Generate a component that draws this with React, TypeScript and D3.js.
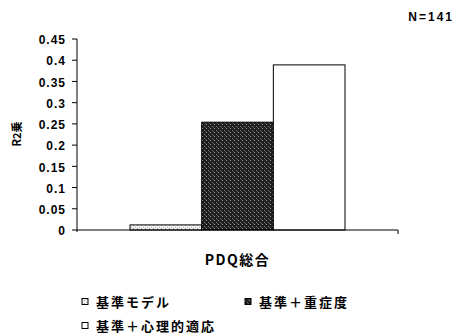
import React from "react";
import * as d3 from "d3";

const categories = ["PDQ総合"];
const seriesNames = ["基準モデル", "基準＋重症度", "基準＋心理的適応"];
const seriesValues = [0.012, 0.254, 0.389];
const yTicks = [0, 0.05, 0.1, 0.15, 0.2, 0.25, 0.3, 0.35, 0.4, 0.45];
const yTickLabels = ["0", "0.05", "0.1", "0.15", "0.2", "0.25", "0.3", "0.35", "0.4", "0.45"];

const W = 463;
const H = 335;
const left = 77;
const right = 398;
const top = 39;
const bottom = 230;

const fills = ["url(#pLight)", "url(#pDark)", "#ffffff"];

export default function App() {
  const y = d3.scaleLinear().domain([0, 0.45]).range([bottom, top]);
  const x0 = d3.scaleBand<string>().domain(categories).range([left, right]).paddingInner(0).paddingOuter(0);
  const x1 = d3
    .scaleBand<string>()
    .domain(seriesNames)
    .range([130 - left, 345 - left])
    .padding(0);
  const font = "'Liberation Sans', Arial, 'Noto Sans CJK JP', sans-serif";
  const jfont = "'Noto Sans CJK JP', 'Liberation Sans', sans-serif";

  return (
    <svg
      width={W}
      height={H}
      style={{ position: "absolute", left: 0, top: 0, background: "#fff" }}
    >
      <defs>
        <pattern id="pLight" width="4" height="3" patternUnits="userSpaceOnUse">
          <rect width="4" height="3" fill="#f2f2f2" />
          <rect x="0" y="0" width="1" height="1" fill="#999" />
          <rect x="2" y="2" width="1" height="1" fill="#bbb" />
        </pattern>
        <pattern id="pDark" width="4" height="4" patternUnits="userSpaceOnUse">
          <rect width="4" height="4" fill="#1e1e1e" />
          <rect x="1" y="0" width="1" height="1" fill="#9a9a9a" />
          <rect x="3" y="2" width="1" height="1" fill="#777" />
          <rect x="0" y="3" width="1" height="1" fill="#555" />
        </pattern>
      </defs>

      {/* N label */}
      <text x={454} y={21} textAnchor="end" fontFamily={font} fontWeight="bold" fontSize={12} letterSpacing={2}>
        N=141
      </text>

      {/* bars */}
      {categories.map((c) => (
        <g key={c} transform={`translate(${x0(c)},0)`}>
          {seriesNames.map((s, i) => (
            <rect
              key={s}
              x={x1(s)}
              y={y(seriesValues[i])}
              width={x1.bandwidth()}
              height={bottom - y(seriesValues[i])}
              fill={fills[i]}
              stroke="#000"
              strokeWidth={1}
            />
          ))}
        </g>
      ))}

      {/* y axis */}
      <line x1={left} y1={top} x2={left} y2={bottom + 2} stroke="#000" strokeWidth={1} />
      {yTicks.map((t, i) => (
        <g key={t}>
          <line x1={left - 5} x2={left} y1={y(t)} y2={y(t)} stroke="#000" />
          <text
            x={66}
            y={y(t) + 1}
            dy="0.35em"
            textAnchor="end"
            fontFamily={font}
            fontWeight="bold"
            fontSize={12}
            letterSpacing={1}
          >
            {yTickLabels[i]}
          </text>
        </g>
      ))}

      {/* x axis */}
      <line x1={left} y1={bottom} x2={right} y2={bottom} stroke="#000" strokeWidth={1} />
      <line x1={right} y1={bottom} x2={right} y2={bottom + 4} stroke="#000" />

      {/* y label */}
      <text
        transform={`translate(21,134) rotate(-90)`}
        textAnchor="middle"
        fontFamily={jfont}
        fontWeight="bold"
        fontSize={11}
      >
        R2乗
      </text>

      {/* x category label */}
      {categories.map((c) => (
        <text
          key={c}
          x={(x0(c) ?? 0) + x0.bandwidth() / 2}
          y={265}
          textAnchor="middle"
          fontFamily={jfont}
          fontWeight="bold"
          fontSize={14}
          letterSpacing={1.5}
        >
          {c}
        </text>
      ))}

      {/* legend */}
      {seriesNames.map((s, i) => {
        const lx = i === 1 ? 245 : 82;
        const ly = i === 2 ? 331 : 307;
        return (
          <g key={s}>
            <rect
              x={lx}
              y={ly - 8.5}
              width={6}
              height={6}
              fill={fills[i]}
              stroke="#000"
              strokeWidth={1}
            />
            <text x={lx + 14} y={ly} fontFamily={jfont} fontWeight="bold" fontSize={13} letterSpacing={2}>
              {s}
            </text>
          </g>
        );
      })}
    </svg>
  );
}
